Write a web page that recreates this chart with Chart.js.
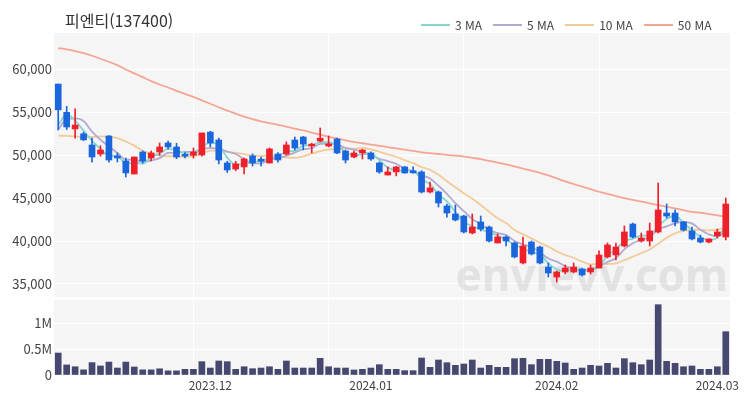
<!DOCTYPE html>
<html lang="ko">
<head>
<meta charset="utf-8">
<title>피엔티(137400)</title>
<script src="https://cdn.jsdelivr.net/npm/chart.js@4.4.1/dist/chart.umd.min.js"></script>
<style>
  body { margin: 0; background: #fff; font-family: "Noto Sans CJK KR", "Noto Sans", sans-serif; }
  #wrap { position: relative; width: 750px; height: 400px; }
  #title { position: absolute; left: 65px; top: 8px; font-size: 16px; color: #333; }
  #legend { position: absolute; left: 421px; top: 16px; display: flex; font-size: 12px; color: #444; }
  .item { display: flex; align-items: center; margin-right: 11px; }
  .item i { display: inline-block; width: 29px; height: 2px; margin-right: 5px; }
</style>
</head>
<body>
<div id="wrap">
  <canvas id="chart" width="750" height="400"></canvas>
  <div id="title">피엔티(137400)</div>
  <div id="legend"></div>
</div>
<script>
// 거래일
const dates = [
  '2023.11.07','2023.11.08','2023.11.09','2023.11.10','2023.11.13','2023.11.14','2023.11.15','2023.11.16','2023.11.17',
  '2023.11.20','2023.11.21','2023.11.22','2023.11.23','2023.11.24','2023.11.27','2023.11.28','2023.11.29','2023.11.30',
  '2023.12.01','2023.12.04','2023.12.05','2023.12.06','2023.12.07','2023.12.08','2023.12.11','2023.12.12','2023.12.13',
  '2023.12.14','2023.12.15','2023.12.18','2023.12.19','2023.12.20','2023.12.21','2023.12.22','2023.12.26','2023.12.27',
  '2023.12.28','2024.01.02','2024.01.03','2024.01.04','2024.01.05','2024.01.08','2024.01.09','2024.01.10','2024.01.11',
  '2024.01.12','2024.01.15','2024.01.16','2024.01.17','2024.01.18','2024.01.19','2024.01.22','2024.01.23','2024.01.24',
  '2024.01.25','2024.01.26','2024.01.29','2024.01.30','2024.01.31','2024.02.01','2024.02.02','2024.02.05','2024.02.06',
  '2024.02.07','2024.02.08','2024.02.13','2024.02.14','2024.02.15','2024.02.16','2024.02.19','2024.02.20','2024.02.21',
  '2024.02.22','2024.02.23','2024.02.26','2024.02.27','2024.02.28','2024.02.29','2024.03.04','2024.03.05'
];

// 시가 / 고가 / 저가 / 종가
const opens = [
  58300, 55000, 53070, 52500, 51200, 50150, 52250, 49920, 49335, 47820,
  50380, 49680, 50380, 51430, 50970, 50100, 50000, 50030, 52700, 51780,
  49100, 48400, 48640, 49920, 49550, 49100, 50150, 50150, 51780, 52130,
  51100, 51660, 51080, 51900, 50500, 49800, 50270, 50270, 49100, 47700,
  48060, 48640, 48200, 48060, 45720, 45720, 44090, 43160, 42920, 40940,
  42230, 41640, 39780, 40480, 39780, 37450, 39890, 39310, 36980, 35810,
  36400, 36400, 36750, 36400, 36860, 38150, 38380, 39430, 41990, 40010,
  40010, 41060, 43270, 43270, 42230, 41180, 40360, 39890, 40600, 40480
];
const highs = [
  58300, 55700, 55400, 52700, 52000, 51100, 52300, 50270, 49680, 49800,
  50500, 50500, 51430, 51660, 51400, 50300, 50850, 52600, 52800, 52000,
  49300, 49300, 49680, 50150, 49800, 50850, 50300, 51550, 52130, 52200,
  51400, 53180, 52250, 52000, 50600, 50500, 50700, 50400, 49200, 48640,
  48700, 48700, 48640, 48200, 46890, 45840, 44320, 44200, 43000, 43160,
  42920, 41750, 40830, 40600, 39900, 40480, 40010, 39430, 37450, 36500,
  37220, 37450, 36860, 37200, 38850, 39780, 39780, 41760, 42100, 40940,
  42110, 46770, 44320, 43630, 42300, 41640, 40710, 40250, 41410, 45020
];
const lows = [
  52950, 53000, 52000, 51700, 49200, 49900, 49200, 49220, 47470, 47820,
  49100, 49335, 50000, 50740, 49600, 49700, 49680, 49900, 50970, 49000,
  48000, 48200, 47820, 48750, 48750, 49100, 49200, 50030, 50620, 50620,
  50270, 51550, 50970, 50200, 49100, 49700, 49570, 49400, 47900, 47700,
  47600, 47900, 47900, 45600, 45600, 43970, 42800, 42350, 40940, 40830,
  41180, 39890, 39780, 39430, 38040, 37330, 38380, 37330, 35810, 35230,
  36160, 36280, 35930, 36160, 36860, 38040, 37800, 39310, 40360, 39890,
  39430, 40940, 42690, 41760, 41180, 40130, 39780, 39780, 40360, 40130
];
const closes = [
  55300, 53300, 53530, 51800, 49800, 50620, 49450, 49680, 47940, 49800,
  49335, 50270, 50970, 50970, 49800, 49900, 50380, 52600, 51430, 49450,
  48290, 49000, 49570, 49100, 49300, 50740, 49450, 51200, 50850, 51300,
  51300, 52000, 51320, 50270, 49450, 50270, 50620, 49570, 48060, 48060,
  48640, 47940, 47950, 45720, 46190, 44440, 43270, 42460, 41060, 41640,
  41410, 40010, 40480, 40010, 38150, 39430, 38500, 37450, 36280, 36400,
  36860, 36980, 36050, 36860, 38380, 39550, 39310, 41060, 40480, 40360,
  41180, 43625, 42920, 42230, 41290, 40250, 39890, 40250, 41060, 44320
];

// 거래량
const volumes = [
  425000, 195000, 160000, 100000, 240000, 175000, 250000, 135000, 250000, 155000,
  100000, 100000, 120000, 80000, 80000, 110000, 110000, 258000, 135000, 271000,
  258000, 110000, 160000, 122000, 135000, 160000, 110000, 271000, 135000, 135000,
  135000, 322000, 160000, 135000, 135000, 97000, 110000, 135000, 200000, 110000,
  110000, 84000, 84000, 329000, 148000, 290000, 238000, 187000, 213000, 290000,
  135000, 187000, 148000, 148000, 316000, 322000, 200000, 303000, 303000, 264000,
  232000, 110000, 135000, 187000, 174000, 226000, 135000, 316000, 238000, 200000,
  290000, 1360000, 264000, 226000, 160000, 174000, 110000, 110000, 160000, 838000
];

// 이동평균 시작값 (차트 이전 데이터 없음 -> 그림에서 읽음)
const ma3Head = [53500, 54800];
const ma5Head = [53000, 54200, 54300, 54000];
const ma10Head = [52300, 52250, 52200, 52150, 52150, 52200, 52150, 52000, 51600];
const ma50 = [
  62500, 62350, 62150, 61900, 61600, 61250, 60900, 60500, 60000, 59550,
  59100, 58650, 58250, 57900, 57500, 57150, 56800, 56400, 56000, 55600,
  55200, 54850, 54500, 54200, 53950, 53750, 53550, 53350, 53100, 52900,
  52650, 52400, 52150, 51950, 51750, 51550, 51400, 51250, 51100, 50950,
  50800, 50650, 50500, 50350, 50250, 50150, 50050, 49950, 49850, 49700,
  49550, 49350, 49150, 48950, 48700, 48450, 48200, 47950, 47650, 47300,
  46950, 46650, 46350, 46050, 45750, 45500, 45250, 45000, 44800, 44600,
  44400, 44200, 44000, 43800, 43600, 43400, 43300, 43150, 43000, 42850
];

const priceTicks = [35000, 40000, 45000, 50000, 55000, 60000];
const volTicks = [0, 500000, 1000000];

const UP = '#f0202b';
const DOWN = '#1a66dc';
const VOL = '#464870';
const BG = '#f5f5f5';

function sma(n, head) {
  return closes.map((c, i) => {
    if (i < n - 1) return head[i];
    let s = 0;
    for (let k = i - n + 1; k <= i; k++) s += closes[k];
    return Math.round(s / n);
  });
}

const maLines = [
  { label: '3 MA', data: sma(3, ma3Head), color: '#86d7cf' },
  { label: '5 MA', data: sma(5, ma5Head), color: '#b4a9cf' },
  { label: '10 MA', data: sma(10, ma10Head), color: '#f1cb98' },
  { label: '50 MA', data: ma50, color: '#f5a594' }
];

// 범례
const legendEl = document.getElementById('legend');
maLines.forEach(m => {
  const d = document.createElement('div');
  d.className = 'item';
  d.innerHTML = '<i style="background:' + m.color + '"></i>' + m.label;
  legendEl.appendChild(d);
});

const candleColors = closes.map((c, i) => c >= opens[i] ? UP : DOWN);

// 패널 배경 + 워터마크
const panelBg = {
  id: 'panelBg',
  beforeDraw(chart) {
    const { ctx, chartArea } = chart;
    const y = chart.scales.y, v = chart.scales.yVol;
    ctx.save();
    ctx.fillStyle = BG;
    ctx.fillRect(chartArea.left, y.top, chartArea.width, y.bottom - y.top - 2);
    ctx.fillRect(chartArea.left, v.top + 1, chartArea.width, v.bottom - v.top - 1);
    ctx.restore();
  },
  beforeDatasetsDraw(chart) {
    const { ctx, chartArea } = chart;
    const y = chart.scales.y;
    ctx.save();
    ctx.fillStyle = '#fff';
    ctx.fillRect(chartArea.left, y.bottom - 2, chartArea.width, 3);
    ctx.font = 'bold 44px "Noto Sans", sans-serif';
    ctx.fillStyle = 'rgba(200,200,200,0.42)';
    ctx.textAlign = 'right';
    ctx.textBaseline = 'alphabetic';
    ctx.fillText('envievv.com', chartArea.right - 2, y.bottom - 8);
    ctx.restore();
  }
};

const datasets = [
  ...maLines.map(m => ({
    type: 'line',
    label: m.label,
    data: m.data,
    yAxisID: 'y',
    borderColor: m.color,
    borderWidth: 1.8,
    pointRadius: 0,
    cubicInterpolationMode: 'monotone',
    order: 5
  })),
  {
    type: 'bar',
    label: 'wick',
    data: lows.map((l, i) => [l, highs[i]]),
    yAxisID: 'y',
    backgroundColor: candleColors,
    barThickness: 1,
    grouped: false,
    order: 2
  },
  {
    type: 'bar',
    label: 'body',
    data: opens.map((o, i) => [o, closes[i]]),
    yAxisID: 'y',
    backgroundColor: candleColors,
    barThickness: 6,
    minBarLength: 1,
    grouped: false,
    order: 1
  },
  {
    type: 'bar',
    label: 'volume',
    data: volumes,
    yAxisID: 'yVol',
    backgroundColor: VOL,
    barThickness: 6,
    grouped: false,
    order: 3
  }
];

const tickFont = { size: 13, family: '"Noto Sans CJK KR", "Noto Sans", sans-serif' };

new Chart(document.getElementById('chart'), {
  data: { labels: dates, datasets: datasets },
  plugins: [panelBg],
  options: {
    responsive: false,
    animation: false,
    layout: { padding: { top: 33, right: 20, left: 0, bottom: 0 } },
    plugins: {
      legend: { display: false },
      tooltip: { enabled: false }
    },
    scales: {
      x: {
        offset: true,
        border: { display: false },
        grid: {
          offset: false,
          drawTicks: false,
          color: ctx => (ctx.index > 0 && ctx.index % 16 === 0) ? '#ffffff' : 'rgba(0,0,0,0)'
        },
        ticks: {
          autoSkip: false,
          maxRotation: 0,
          padding: 3,
          color: '#444',
          font: { size: 12, family: tickFont.family },
          callback: (v, i) => (i > 0 && dates[i].slice(0, 7) !== dates[i - 1].slice(0, 7)) ? dates[i].slice(0, 7) : ''
        },
        afterFit: s => { s.height = 25; }
      },
      yVol: {
        stack: 'main',
        stackWeight: 76,
        min: 0,
        max: 1470000,
        border: { display: false },
        grid: { color: '#ffffff', drawTicks: false },
        afterBuildTicks: s => { s.ticks = volTicks.map(v => ({ value: v })); },
        ticks: {
          padding: 2,
          color: '#444',
          font: tickFont,
          callback: v => v === 0 ? '0' : (v / 1000000) + 'M'
        },
        afterFit: s => { s.width = 54; }
      },
      y: {
        stack: 'main',
        stackWeight: 266,
        min: 33250,
        max: 64250,
        border: { display: false },
        grid: { color: '#ffffff', drawTicks: false },
        afterBuildTicks: s => { s.ticks = priceTicks.map(v => ({ value: v })); },
        ticks: {
          padding: 2,
          color: '#444',
          font: tickFont,
          callback: v => v.toLocaleString('en-US')
        },
        afterFit: s => { s.width = 54; }
      }
    }
  }
});
</script>
</body>
</html>
